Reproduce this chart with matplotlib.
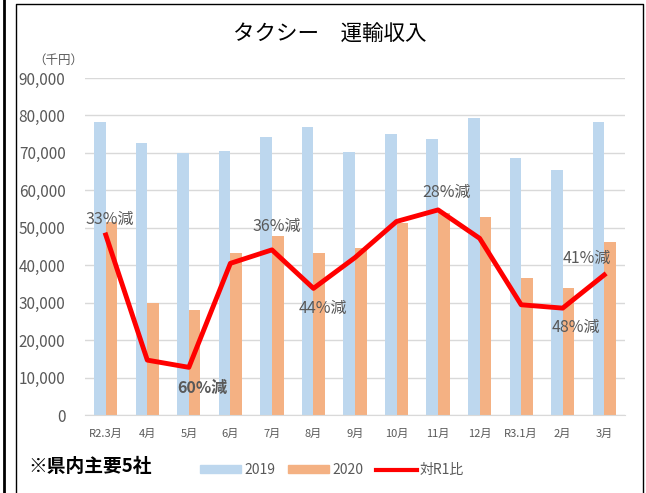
import numpy as np
import matplotlib
matplotlib.use("Agg")
import matplotlib.pyplot as plt
from matplotlib.lines import Line2D
from matplotlib.patches import Patch

plt.rcParams['font.family'] = ['Noto Sans CJK JP', 'DejaVu Sans']

# データ
months = ["R2.3月", "4月", "5月", "6月", "7月", "8月", "9月", "10月", "11月", "12月", "R3.1月", "2月", "3月"]
y2019 = [78300, 72700, 70000, 70500, 74300, 76800, 70300, 75000, 73800, 79200, 68700, 65300, 78200]
y2020 = [51500, 30000, 28000, 43300, 47700, 43300, 44500, 51300, 54000, 53000, 36500, 33800, 46300]
ratio = [67.4, 41.4, 39.9, 61.5, 64.3, 56.3, 62.7, 70.2, 72.6, 66.7, 52.9, 52.2, 59.1]  # 対R1比(%)

# 注記 (月のインデックス, 文字, 位置ずれ px)
notes = [(0, "33%減", (4, 15)), (2, "60%減", (14, -21)), (4, "36%減", (5, 23)),
         (5, "44%減", (9, -20)), (8, "28%減", (8, 17)), (11, "48%減", (13, -19)),
         (12, "41%減", (-17, 16))]

W, H = 646, 493
fig = plt.figure(figsize=(W / 100, H / 100), dpi=100)
ax = fig.add_axes([85 / W, 1 - 415 / H, 540 / W, 337 / H])

x = np.arange(len(months))
bw = 0.28
ax.bar(x - bw / 2, y2019, bw, color="#BDD7EE", label="2019", zorder=2)
ax.bar(x + bw / 2, y2020, bw, color="#F4B183", label="2020", zorder=2)

ax.set_xlim(-0.5, len(months) - 0.5)
ax.set_ylim(0, 90000)
ax.set_yticks(range(0, 90001, 10000))
ax.set_yticklabels([f"{v:,}" for v in range(0, 90001, 10000)], fontsize=11, color="#595959")
ax.set_xticks(x)
ax.set_xticklabels(months, fontsize=8, color="#595959")
ax.tick_params(length=0, pad=10)
ax.tick_params(axis="y", pad=14)
ax.grid(axis="y", color="#D9D9D9", lw=1, zorder=0)
for s in ["top", "right", "left"]:
    ax.spines[s].set_visible(False)
ax.spines["bottom"].set_color("#D9D9D9")

# 対R1比は第2軸 (非表示)
ax2 = ax.twinx()
ax2.set_ylim(30, 100)
ax2.plot(x, ratio, color="#FF0000", lw=3.5, zorder=5)
ax2.axis("off")

for i, txt, (dx, dy) in notes:
    ax2.annotate(txt, (x[i], ratio[i]), xytext=(dx, dy), textcoords="offset pixels",
                 ha="center", va="center", fontsize=11.5, color="#595959",
                 fontweight="bold" if txt == "60%減" else "normal")

fig.text(330 / W, 1 - 35 / H, "タクシー　運輸収入", ha="center", va="center", fontsize=15.5)
fig.text(58 / W, 1 - 60 / H, "（千円）", ha="center", va="center", fontsize=9, color="#595959")
fig.text(28 / W, 1 - 466 / H, "※県内主要5社", ha="left", va="center", fontsize=13.5, fontweight="bold")

handles = [Patch(color="#BDD7EE"), Patch(color="#F4B183"), Line2D([], [], color="#FF0000", lw=3)]
fig.legend(handles, ["2019", "2020", "対R1比"], loc="center", bbox_to_anchor=(332 / W, 1 - 470 / H),
           ncol=3, frameon=False, fontsize=10, handlelength=3.0, handleheight=0.5,
           columnspacing=0.9, handletextpad=0.2, labelcolor="#595959")

# 枠線
fig.add_artist(Line2D([4 / W, 4 / W], [0, 1], color="black", lw=2))
fig.add_artist(Line2D([16 / W, 16 / W, 643 / W, 643 / W], [0, 1 - 4 / H, 1 - 4 / H, 0], color="black", lw=1))

fig.savefig("out.png", dpi=100)
